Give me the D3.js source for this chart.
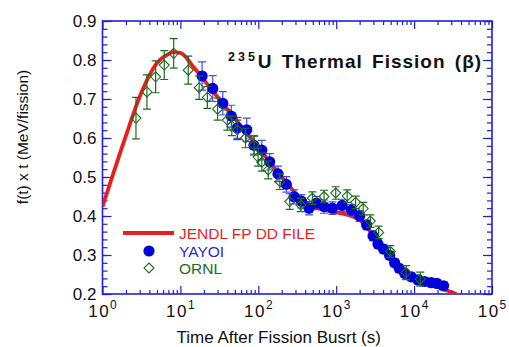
<!DOCTYPE html>
<html>
<head>
<meta charset="utf-8">
<script src="https://cdn.jsdelivr.net/npm/d3@7"></script>
<style>
  body { margin: 0; background: #fff; }
  text { font-family: Arial, "Liberation Sans", sans-serif; }
</style>
</head>
<body>
<div id="chart"></div>
<script>
// JENDL FP decay data file (calculation)
const jendlTime = [1, 2, 3, 5, 7, 8, 10, 15, 20, 30, 50, 100, 200, 300, 500, 1000, 2000, 3000, 5000, 10000, 20000, 35000]
const jendlValue = [0.424, 0.606, 0.706, 0.792, 0.815, 0.82, 0.818, 0.78, 0.749, 0.705, 0.65, 0.576, 0.5, 0.459, 0.424, 0.41, 0.39, 0.35, 0.292, 0.241, 0.218, 0.2]

// YAYOI measurement
const yayoiTime = [19, 26, 35, 45, 54, 71, 88, 111, 140, 179, 229, 287, 358, 448, 557, 698, 894, 1190, 1570, 2000, 2460, 2970, 3440, 4060, 4850, 5620, 6420, 7550, 9200, 11200, 13600, 16600, 19600, 23900]
const yayoiValue = [0.759, 0.727, 0.689, 0.656, 0.626, 0.621, 0.581, 0.569, 0.539, 0.508, 0.481, 0.449, 0.438, 0.42, 0.433, 0.424, 0.42, 0.427, 0.415, 0.4, 0.377, 0.349, 0.328, 0.315, 0.299, 0.28, 0.266, 0.253, 0.244, 0.236, 0.232, 0.229, 0.227, 0.221]
const yayoiError = [0.036, 0.033, 0.03, 0.028, 0.027, 0.03, 0.025, 0.025, 0.021, 0.02, 0.02, 0.018, 0.017, 0.017, 0.017, 0.017, 0.016, 0.016, 0.015, 0.014, 0.012, 0.012, 0.011, 0.011, 0.01, 0.01, 0.01, 0.01, 0.01, 0.01, 0.01, 0.01, 0.01, 0.01]

// ORNL measurement
const ornlTime = [2.69, 3.72, 4.81, 6.2, 8.2, 12.6, 17.4, 22.2, 30, 40, 45.7, 53.8, 68.5, 88.3, 99.4, 111, 134, 189, 253, 351, 495, 698, 986, 1384, 1778, 2219, 2744, 3508, 4955, 7889, 12000]
const ornlValue = [0.651, 0.718, 0.757, 0.787, 0.817, 0.774, 0.729, 0.704, 0.674, 0.646, 0.631, 0.621, 0.6, 0.582, 0.551, 0.538, 0.518, 0.488, 0.437, 0.428, 0.446, 0.45, 0.459, 0.451, 0.435, 0.419, 0.387, 0.358, 0.309, 0.255, 0.238]
const ornlError = [0.053, 0.044, 0.041, 0.037, 0.038, 0.036, 0.03, 0.028, 0.028, 0.026, 0.025, 0.025, 0.025, 0.023, 0.023, 0.023, 0.023, 0.02, 0.02, 0.017, 0.016, 0.016, 0.016, 0.016, 0.016, 0.016, 0.016, 0.016, 0.015, 0.018, 0.018]

// Axis ticks
const xTickExponents = [0, 1, 2, 3, 4, 5]
const yTickValues = [0.2, 0.3, 0.4, 0.5, 0.6, 0.7, 0.8, 0.9]

const legendLabels = ['JENDL FP DD FILE', 'YAYOI', 'ORNL']

function draw() {
  // Dimensions
  let dimensions = {
    width: 509,
    height: 347,
    margins: { top: 21, right: 17, bottom: 53, left: 102.5 }
  }
  dimensions.ctrWidth = dimensions.width - dimensions.margins.left - dimensions.margins.right
  dimensions.ctrHeight = dimensions.height - dimensions.margins.top - dimensions.margins.bottom

  const axisColor = '#1f1fe0'
  const red = '#ee1c1c'
  const blue = '#0000dd'
  const green = '#1d6e1d'

  const svg = d3.select('#chart')
    .append('svg')
    .attr('width', dimensions.width)
    .attr('height', dimensions.height)

  const ctr = svg.append('g')
    .attr('transform', `translate(${dimensions.margins.left}, ${dimensions.margins.top})`)

  // Scales
  const xScale = d3.scaleLog()
    .domain([1, 1e5])
    .range([0, dimensions.ctrWidth])

  const yScale = d3.scaleLinear()
    .domain([0.2, 0.9])
    .range([dimensions.ctrHeight, 0])

  // Ticks (all inward, mirrored on four sides)
  const xMajor = xTickExponents.map(e => Math.pow(10, e))
  const xMinor = []
  xTickExponents.slice(0, -1).forEach(e => {
    for (let m = 2; m <= 9; m++) xMinor.push(m * Math.pow(10, e))
  })
  const yMinor = d3.range(0.2, 0.9001, 0.02).map(v => +v.toFixed(2))

  const axes = [
    { axis: d3.axisBottom, scale: xScale, y: dimensions.ctrHeight, x: 0, major: xMajor, minor: xMinor, big: 8, small: 4 },
    { axis: d3.axisTop, scale: xScale, y: 0, x: 0, major: xMajor, minor: xMinor, big: 8, small: 4 },
    { axis: d3.axisLeft, scale: yScale, y: 0, x: 0, major: yTickValues, minor: yMinor, big: 9, small: 5 },
    { axis: d3.axisRight, scale: yScale, y: 0, x: dimensions.ctrWidth, major: yTickValues, minor: yMinor, big: 9, small: 5 }
  ]

  axes.forEach(a => {
    const g1 = ctr.append('g')
      .attr('transform', `translate(${a.x}, ${a.y})`)
      .call(a.axis(a.scale).tickValues(a.minor).tickSize(-a.small).tickFormat(''))
    const g2 = ctr.append('g')
      .attr('transform', `translate(${a.x}, ${a.y})`)
      .call(a.axis(a.scale).tickValues(a.major).tickSize(-a.big).tickFormat(''))
    ;[g1, g2].forEach(g => {
      g.select('.domain').remove()
      g.selectAll('line').attr('stroke', axisColor).attr('stroke-width', 1.2)
    })
  })

  // Tick labels
  const xLabels = ctr.append('g')
  xTickExponents.forEach(e => {
    const t = xLabels.append('text')
      .attr('x', xScale(Math.pow(10, e)))
      .attr('y', dimensions.ctrHeight + 23)
      .attr('text-anchor', 'middle')
      .attr('font-size', 17)
      .attr('fill', '#111')
    t.append('tspan').attr('letter-spacing', 1.5).text('10')
    t.append('tspan').attr('dy', -8).attr('font-size', 12).text(e)
  })

  ctr.append('g')
    .selectAll('text')
    .data(yTickValues)
    .join('text')
    .attr('x', -6)
    .attr('y', d => yScale(d))
    .attr('dy', '0.36em')
    .attr('text-anchor', 'end')
    .attr('font-size', 17)
    .attr('fill', '#111')
    .text(d => d3.format('.1f')(d))

  // Frame
  ctr.append('rect')
    .attr('width', dimensions.ctrWidth)
    .attr('height', dimensions.ctrHeight)
    .attr('fill', 'none')
    .attr('stroke', axisColor)
    .attr('stroke-width', 1.6)

  // Axis titles
  svg.append('text')
    .attr('x', dimensions.margins.left + xScale(2e2) - 3)
    .attr('y', 343)
    .attr('text-anchor', 'middle')
    .attr('font-size', 17)
    .attr('fill', '#111')
    .text('Time After Fission Busrt (s)')

  svg.append('text')
    .attr('transform', `translate(28, 137) rotate(-90)`)
    .attr('text-anchor', 'middle')
    .attr('font-size', 15.5)
    .attr('fill', '#111')
    .text('f(t) x t (MeV/fission)')

  // Title
  const title = svg.append('text')
    .attr('x', 228)
    .attr('y', 68)
    .attr('font-weight', 'bold')
    .attr('fill', '#111')
  title.append('tspan')
    .attr('font-size', 12.5)
    .attr('letter-spacing', 3)
    .attr('dy', -7)
    .text('235')
  title.append('tspan')
    .attr('font-size', 19)
    .attr('letter-spacing', 1)
    .attr('word-spacing', 3)
    .attr('dy', 7)
    .text('U Thermal Fission (β)')

  // Clip to plot area
  svg.append('defs').append('clipPath').attr('id', 'clip')
    .append('rect')
    .attr('width', dimensions.ctrWidth)
    .attr('height', dimensions.ctrHeight)

  const plot = ctr.append('g').attr('clip-path', 'url(#clip)')

  // JENDL curve
  const jendl = jendlTime.map((t, i) => ({ t, v: jendlValue[i] }))
  const line = d3.line()
    .x(d => xScale(d.t))
    .y(d => yScale(d.v))
    .curve(d3.curveMonotoneX)

  plot.append('path')
    .datum(jendl)
    .attr('d', line)
    .attr('fill', 'none')
    .attr('stroke', red)
    .attr('stroke-width', 3.8)

  // YAYOI
  const yayoi = yayoiTime.map((t, i) => ({ t, v: yayoiValue[i], e: yayoiError[i] }))
  const errorBars = (g, data, color, cap) => {
    const bars = g.append('g')
      .attr('stroke', color)
      .attr('stroke-width', 1.2)
      .selectAll('g')
      .data(data)
      .join('g')
      .attr('transform', d => `translate(${xScale(d.t)}, 0)`)
    bars.append('line')
      .attr('y1', d => yScale(d.v - d.e))
      .attr('y2', d => yScale(d.v + d.e))
    bars.append('line')
      .attr('x1', -cap).attr('x2', cap)
      .attr('y1', d => yScale(d.v + d.e))
      .attr('y2', d => yScale(d.v + d.e))
    bars.append('line')
      .attr('x1', -cap).attr('x2', cap)
      .attr('y1', d => yScale(d.v - d.e))
      .attr('y2', d => yScale(d.v - d.e))
  }

  errorBars(plot, yayoi, '#4a4ae8', 4)

  plot.append('g')
    .selectAll('circle')
    .data(yayoi)
    .join('circle')
    .attr('cx', d => xScale(d.t))
    .attr('cy', d => yScale(d.v))
    .attr('r', 5.6)
    .attr('fill', blue)

  // ORNL
  const ornl = ornlTime.map((t, i) => ({ t, v: ornlValue[i], e: ornlError[i] }))
  errorBars(plot, ornl, green, 4)

  const diamond = 'M0,-5L5,0L0,5L-5,0Z'
  plot.append('g')
    .selectAll('path')
    .data(ornl)
    .join('path')
    .attr('transform', d => `translate(${xScale(d.t)}, ${yScale(d.v)})`)
    .attr('d', diamond)
    .attr('fill', 'none')
    .attr('stroke', green)
    .attr('stroke-width', 1.1)

  // Legend
  const legend = svg.append('g').attr('transform', 'translate(123, 233)')
  legend.append('line')
    .attr('x1', 0).attr('x2', 51)
    .attr('stroke', red)
    .attr('stroke-width', 3.8)
  legend.append('circle')
    .attr('cx', 26).attr('cy', 18)
    .attr('r', 5.6)
    .attr('fill', blue)
  legend.append('path')
    .attr('transform', 'translate(26, 35)')
    .attr('d', diamond)
    .attr('fill', 'none')
    .attr('stroke', green)
    .attr('stroke-width', 1.1)

  legend.selectAll('text')
    .data(legendLabels)
    .join('text')
    .attr('x', 56)
    .attr('y', (d, i) => 6 + i * 17.5)
    .attr('font-size', 15.5)
    .attr('fill', (d, i) => [red, '#2a2ad8', green][i])
    .text(d => d)
}

draw()
</script>
</body>
</html>
